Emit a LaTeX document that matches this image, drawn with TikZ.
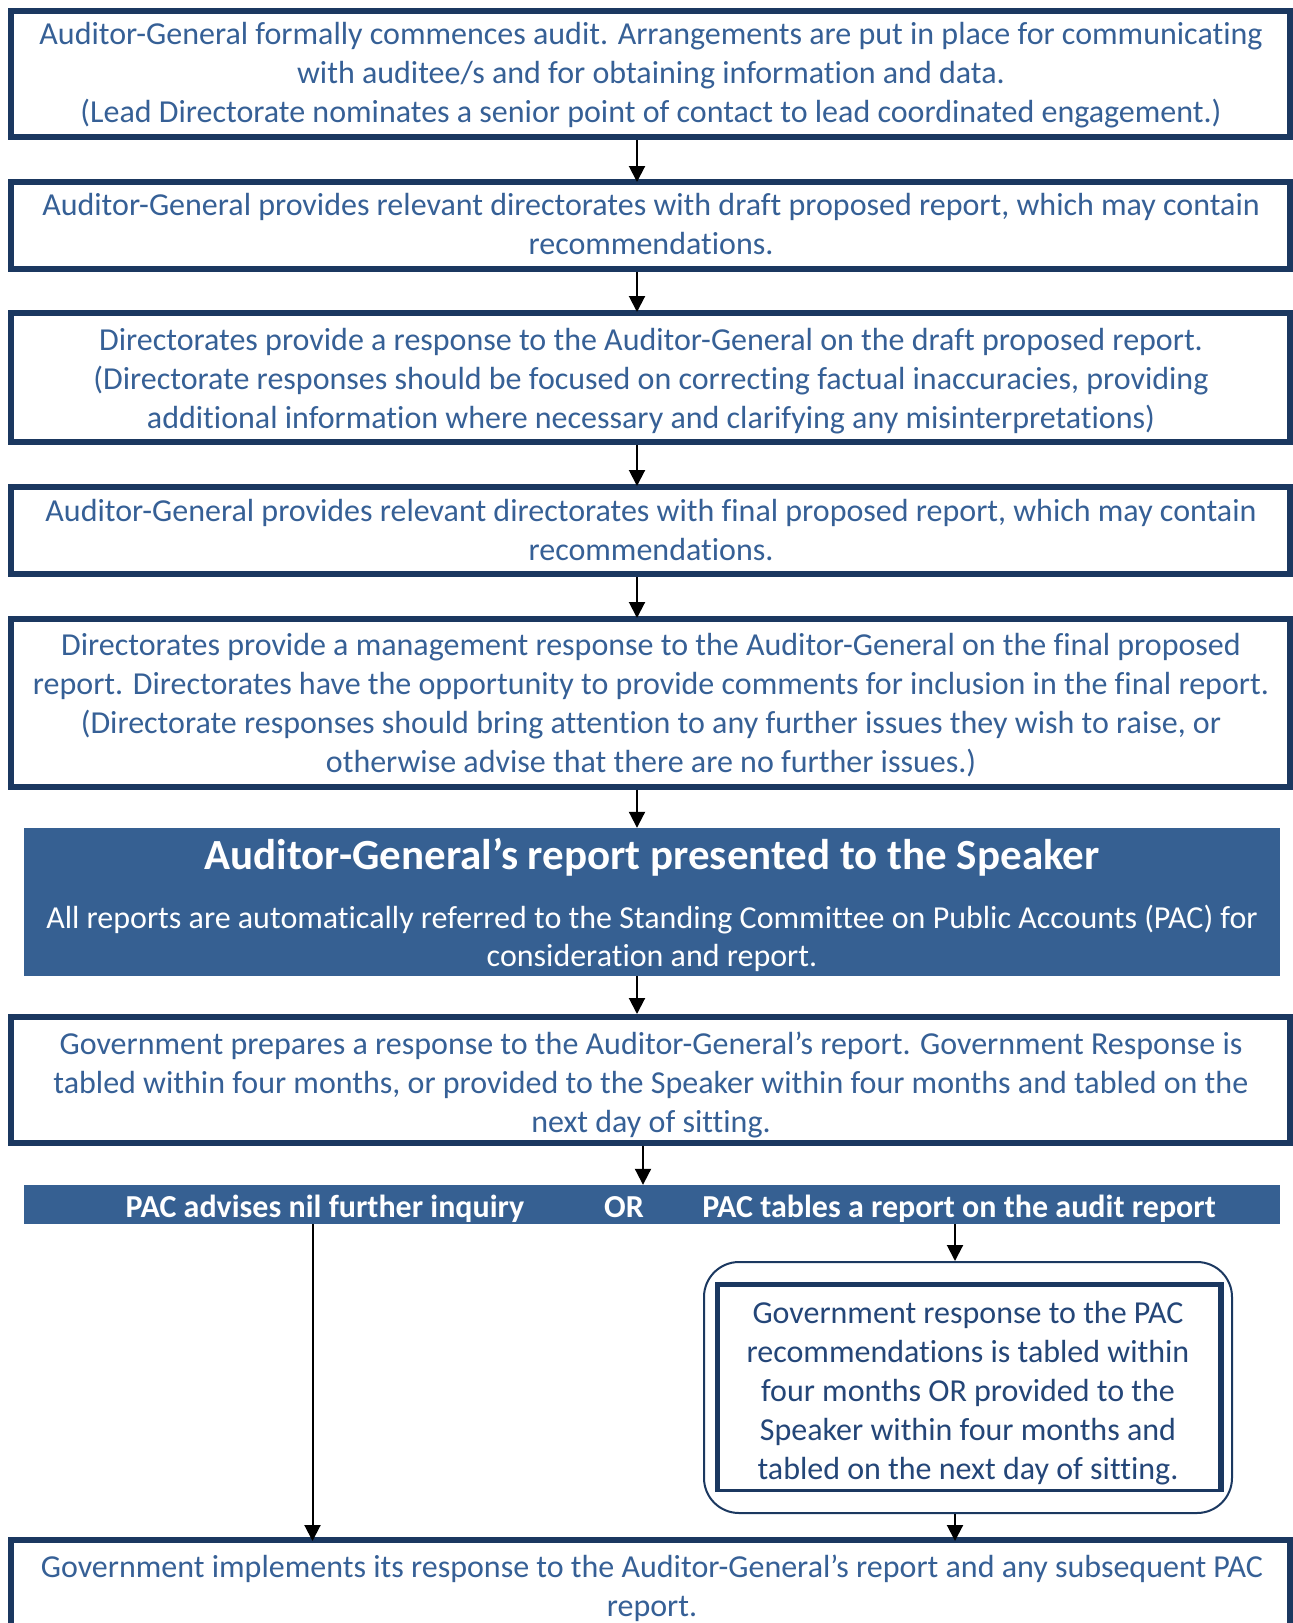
\documentclass[tikz,border=0pt]{standalone}
\usepackage{fontspec}
\setmainfont{Carlito}[Ligatures={NoCommon}]
\usetikzlibrary{arrows.meta}
\definecolor{navy}{RGB}{27,56,96}
\definecolor{fillblue}{RGB}{54,96,146}
\definecolor{txtblue}{RGB}{54,96,150}
\definecolor{txtdark}{RGB}{36,70,120}
\tikzset{
  box/.style={draw=navy, line width=6pt, fill=white, inner sep=0pt},
  filledbox/.style={draw=none, fill=fillblue, inner sep=0pt},
  txt/.style={font=\fontsize{32}{39}\selectfont, text=txtblue, align=center, inner sep=0pt, anchor=base},
  wtxt/.style={font=\fontsize{32}{38.5}\selectfont, text=white, align=center, inner sep=0pt, anchor=base},
  btxt/.style={font=\bfseries\fontsize{32}{39}\selectfont, text=white, inner sep=0pt, anchor=base},
  arr/.style={draw=black, line width=2pt, -{Triangle[width=16pt,length=16pt]}},
}
\begin{document}
\begin{tikzpicture}[x=1pt,y=-1pt]
\useasboundingbox (0,0) rectangle (1293,1623);
\fill[white] (0,0) rectangle (1293,1623);
\coordinate (colx) at (637,0);
\coordinate (colb) at (643,0);
\coordinate (colr) at (955,0);
\coordinate (coll) at (312.5,0);
% boxes
\node[box, minimum width=1279, minimum height=126] (b1) at (650.5,74) {};
\node[box, minimum width=1279, minimum height=86.5] (b2) at (650.5,225.25) {};
\node[box, minimum width=1279, minimum height=129] (b3) at (650.5,377.5) {};
\node[box, minimum width=1279, minimum height=87] (b4) at (650.5,530.5) {};
\node[box, minimum width=1279, minimum height=167.5] (b5) at (650.5,702.75) {};
\node[filledbox, minimum width=1256, minimum height=148] (b6) at (652,902) {};
\node[box, minimum width=1279, minimum height=126] (b7) at (650.5,1080) {};
\node[filledbox, minimum width=1256, minimum height=39] (bar) at (652,1204.5) {};
\node[draw=navy, line width=2pt, rounded corners=35pt, minimum width=528, minimum height=251, inner sep=0pt] (rb) at (968,1387.5) {};
\node[draw=navy, line width=3pt, minimum width=501, minimum height=205, inner sep=0pt] (ib) at (969,1388) {};
\draw[navy, line width=5pt] (ib.south west) -- (ib.north west) -- (ib.north east) -- (ib.south east);
\node[box, minimum width=1279, minimum height=100] (b8) at (650.5,1590) {};
% texts (anchor base = baseline of the last line)
\node[txt] (t1) at (651,122) {Auditor-General formally commences audit. Arrangements are put in place for communicating\\with auditee/s and for obtaining information and data.\\(Lead Directorate nominates a senior point of contact to lead coordinated engagement.)};
\node[txt] (t2) at (651,254) {Auditor-General provides relevant directorates with draft proposed report, which may contain\\recommendations.};
\node[txt] (t3) at (651,428) {Directorates provide a response to the Auditor-General on the draft proposed report.\\(Directorate responses should be focused on correcting factual inaccuracies, providing\\additional information where necessary and clarifying any misinterpretations)};
\node[txt] (t4) at (651,560) {Auditor-General provides relevant directorates with final proposed report, which may contain\\recommendations.};
\node[txt] (t5) at (651,772) {Directorates provide a management response to the Auditor-General on the final proposed\\report. Directorates have the opportunity to provide comments for inclusion in the final report.\\(Directorate responses should bring attention to any further issues they wish to raise, or\\otherwise advise that there are no further issues.)};
\node[font=\bfseries\fontsize{43}{50}\selectfont, text=white, inner sep=0pt, anchor=base] (t6a) at (652,869) {Auditor-General’s report presented to the Speaker};
\node[wtxt] (t6b) at (652,966.5) {All reports are automatically referred to the Standing Committee on Public Accounts (PAC) for\\consideration and report.};
\node[txt] (t7) at (651,1132) {Government prepares a response to the Auditor-General’s report. Government Response is\\tabled within four months, or provided to the Speaker within four months and tabled on the\\next day of sitting.};
\node[btxt] (p1) at (325,1217) {PAC advises nil further inquiry};
\node[btxt] (p2) at (624,1217) {OR};
\node[btxt] (p3) at (959,1217) {PAC tables a report on the audit report};
\node[txt, text=txtdark] (t8) at (968,1479) {Government response to the PAC\\recommendations is tabled within\\four months OR provided to the\\Speaker within four months and\\tabled on the next day of sitting.};
\node[txt] (t9) at (652,1616) {Government implements its response to the Auditor-General’s report and any subsequent PAC\\report.};
% arrows
\draw[arr] (b1.south -| colx) -- ([yshift=-3]b2.north -| colx);
\draw[arr] (b2.south -| colx) -- ([yshift=-2]b3.north -| colx);
\draw[arr] (b3.south -| colx) -- ([yshift=-2]b4.north -| colx);
\draw[arr] (b4.south -| colx) -- ([yshift=-2]b5.north -| colx);
\draw[arr] (b5.south -| colx) -- (b6.north -| colx);
\draw[arr] (b6.south -| colx) -- (b7.north -| colx);
\draw[arr] (b7.south -| colb) -- (bar.north -| colb);
\draw[arr] (bar.south -| colr) -- (rb.north -| colr);
\draw[arr] (rb.south -| colr) -- ([yshift=-4]b8.north -| colr);
\draw[arr] (bar.south -| coll) -- ([yshift=-4]b8.north -| coll);
\end{tikzpicture}
\end{document}
